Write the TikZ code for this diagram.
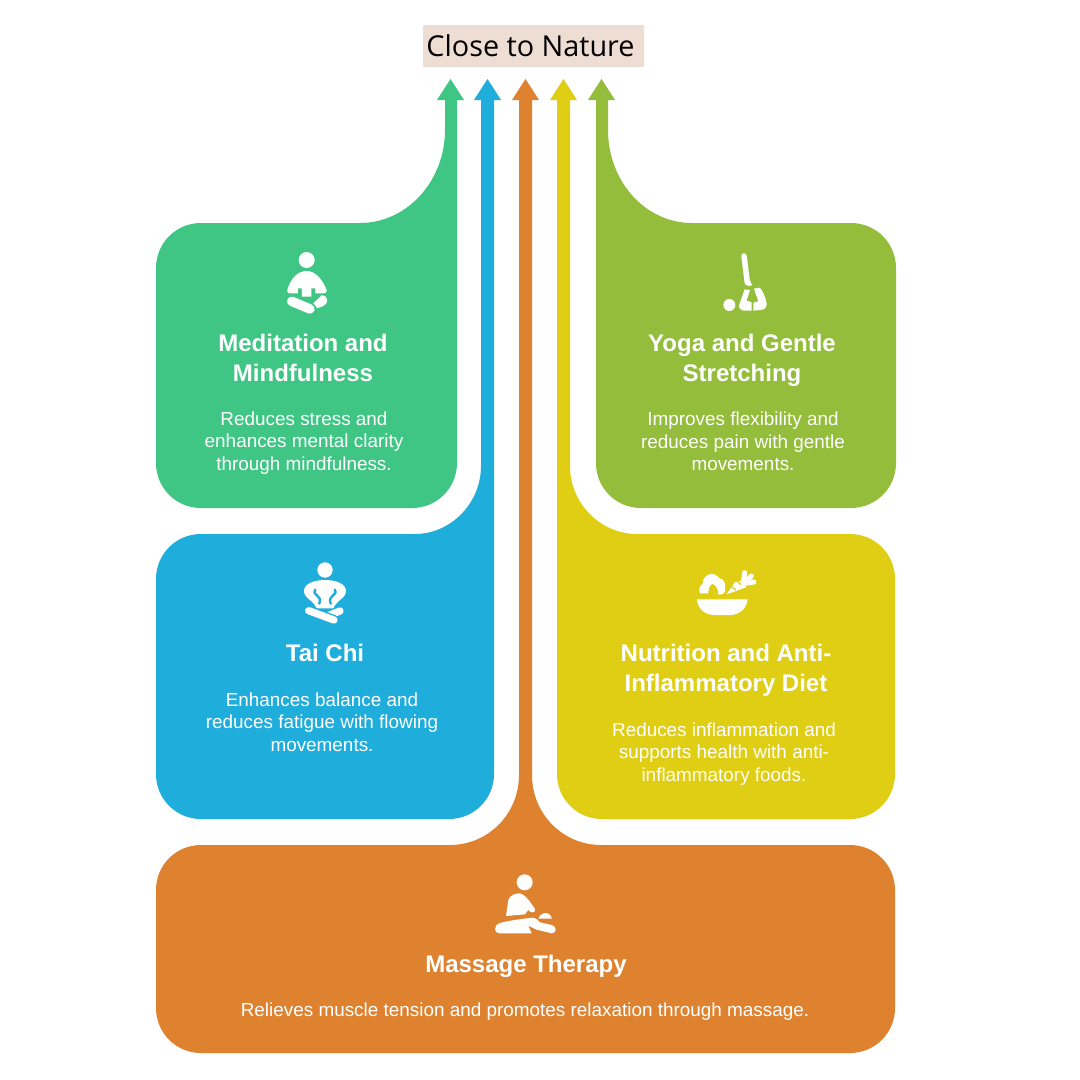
\documentclass[tikz,border=0pt]{standalone}
\usepackage{fontspec}
\setmainfont{Liberation Sans}
\newfontfamily\titlefont{Open Sans}
\definecolor{cgreen}{HTML}{3FC684}
\definecolor{cblue}{HTML}{1FADDC}
\definecolor{corange}{HTML}{DF8230}
\definecolor{cyellow}{HTML}{E0CE15}
\definecolor{clime}{HTML}{93BD3A}
\definecolor{ctitle}{HTML}{EDDDD2}
\tikzset{
 heading/.style={text=white,font=\fontsize{24}{30}\selectfont\bfseries,align=center,inner sep=0pt,anchor=center},
 bodytext/.style={text=white,font=\fontsize{18.9}{22.7}\selectfont,align=center,inner sep=0pt,anchor=center},
 icon/.style={x=0.3333pt,y=-0.3333pt,white,fill=white},
}
\begin{document}
\begin{tikzpicture}[x=1pt,y=-1pt]
\useasboundingbox (0,0) rectangle (1080,1080);
\fill[white] (0,0) rectangle (1080,1080);
% title
\fill[ctitle,rounded corners=1pt] (423,25) rectangle (644,67);
\node[inner sep=0pt,font=\titlefont\fontsize{28.8}{30}\selectfont,text=black] (title) at (530.5,46) {Close to Nature};
% green
\fill[cgreen] (156,268) .. controls (156,243) and (176,223) .. (201,223) -- (360,223)
 .. controls (407,223) and (445,181) .. (445,130) -- (445,100) -- (437,100) -- (450.5,79) -- (464,100) -- (457,100)
 -- (457,463) .. controls (457,488) and (437,508) .. (412,508) -- (201,508) .. controls (176,508) and (156,488) .. (156,463) -- cycle;
% blue
\fill[cblue] (156,579) .. controls (156,554) and (176,534) .. (201,534) -- (415,534)
 .. controls (451,534) and (481,503) .. (481,466) -- (481,100) -- (474,100) -- (487.5,79) -- (501,100) -- (494,100)
 -- (494,774) .. controls (494,799) and (474,819) .. (449,819) -- (201,819) .. controls (176,819) and (156,799) .. (156,774) -- cycle;
% orange
\fill[corange] (156,890) .. controls (156,865) and (176,845) .. (201,845) -- (450,845)
 .. controls (488,845) and (519,814) .. (519,775) -- (519,100) -- (512,100) -- (525.5,79) -- (539,100) -- (532,100)
 -- (532,775) .. controls (532,814) and (563,845) .. (601,845) -- (850,845)
 .. controls (875,845) and (895,865) .. (895,890) -- (895,1008) .. controls (895,1033) and (875,1053) .. (850,1053)
 -- (201,1053) .. controls (176,1053) and (156,1033) .. (156,1008) -- cycle;
% yellow
\fill[cyellow] (895,579) .. controls (895,554) and (875,534) .. (850,534) -- (637,534)
 .. controls (600,534) and (570,503) .. (570,466) -- (570,100) -- (577,100) -- (563.5,79) -- (550,100) -- (557,100)
 -- (557,774) .. controls (557,799) and (577,819) .. (602,819) -- (850,819) .. controls (875,819) and (895,799) .. (895,774) -- cycle;
% lime
\fill[clime] (896,268) .. controls (896,243) and (876,223) .. (851,223) -- (692,223)
 .. controls (645,223) and (608,181) .. (608,130) -- (608,100) -- (615,100) -- (601.5,79) -- (588,100) -- (596,100)
 -- (596,463) .. controls (596,488) and (616,508) .. (641,508) -- (851,508) .. controls (876,508) and (896,488) .. (896,463) -- cycle;
% texts
\node[heading] (h1) at (303,358) {Meditation and\\Mindfulness};
\node[bodytext] (b1) at (304,443) {Reduces stress and\\enhances mental clarity\\through mindfulness.};
\node[heading] (h2) at (325,653) {Tai Chi};
\node[bodytext] (b2) at (322,722) {Enhances balance and\\reduces fatigue with flowing\\movements.};
\node[heading] (h3) at (742,360) {Yoga and Gentle\\Stretching};
\node[bodytext] (b3) at (743,441.5) {Improves flexibility and\\reduces pain with gentle\\movements.};
\node[heading] (h4) at (726,670) {Nutrition and Anti-\\Inflammatory Diet};
\node[bodytext] (b4) at (724,754) {Reduces inflammation and\\supports health with anti-\\inflammatory foods.};
\node[heading] (h5) at (526,966) {Massage Therapy};
\node[bodytext] (b5) at (525,1012) {Relieves muscle tension and promotes relaxation through massage.};
% meditation icon
\begin{scope}[shift={(260,240)},icon]
\fill (140,60) circle[radius=24];
\fill (82,150) .. controls (90,120) and (110,93) .. (140,93) .. controls (170,93) and (190,125) .. (200,150) .. controls (202,160) and (190,162) .. (182,160) -- (166,160) -- (166,145) -- (154,145) -- (154,170) -- (126,170) -- (126,145) -- (114,145) -- (114,160) -- (98,160) .. controls (90,162) and (80,160) .. (82,150) -- cycle;
\fill (168,182) -- (185,166) .. controls (205,166) and (208,190) .. (190,198) -- (172,205) -- (160,190) -- cycle;
\draw[cgreen,line width=12.5pt,line cap=round] (95,184) -- (150,207);
\draw[line width=9.5pt,line cap=round] (95,184) -- (150,207);
\end{scope}
% yoga icon
\begin{scope}[shift={(700,240)},icon]
\draw[line width=5.5pt,line cap=round] (132,48) -- (142,128);
\fill (145,138) -- (156,136) -- (150,120) -- (134,120) -- cycle;
\fill (88,195) circle[radius=18];
\fill (134,148) -- (150,150) -- (140,182) -- (155,187) -- (155,212) -- (132,212) .. controls (115,210) and (115,195) .. (120,188) -- cycle;
\fill (162,146) -- (178,143) .. controls (186,145) and (200,180) .. (200,192) .. controls (200,205) and (190,210) .. (180,210) -- (160,212) -- (160,188) -- (175,184) -- cycle;
\end{scope}
% tai chi icon
\begin{scope}[shift={(280,555)},icon]
\fill (135,45) circle[radius=23];
\fill (135,75) .. controls (165,75) and (198,85) .. (198,108) .. controls (198,130) and (170,135) .. (160,160) -- (110,160) .. controls (100,135) and (72,130) .. (72,108) .. controls (72,85) and (105,75) .. (135,75) -- cycle;
\draw[cblue,line width=2.4pt,line cap=round] (106,104) .. controls (94,122) and (128,118) .. (118,146);
\draw[cblue,line width=2.4pt,line cap=round] (164,104) .. controls (176,122) and (142,118) .. (152,146);
\draw[line width=7.3pt,line cap=round] (180,168) -- (145,182);
\draw[cblue,line width=10pt,line cap=round] (86,167) -- (162,195);
\draw[line width=7.3pt,line cap=round] (86,167) -- (162,195);
\end{scope}
% nutrition icon
\begin{scope}[shift={(680,560)},icon]
\fill (50,118) -- (203,118) .. controls (200,148) and (175,165) .. (150,165) -- (105,165) .. controls (75,165) and (55,148) .. (50,118) -- cycle;
\fill (60,100) .. controls (55,90) and (60,75) .. (68,72) .. controls (68,50) and (85,40) .. (100,42) .. controls (110,45) and (115,52) .. (118,55) .. controls (130,55) and (138,70) .. (135,85) .. controls (137,95) and (132,103) .. (125,103) -- (115,103) .. controls (115,85) and (105,72) .. (98,72) .. controls (88,72) and (85,90) .. (85,100) -- cycle;
\fill (140,103) -- (165,66) .. controls (180,55) and (205,70) .. (198,82) -- cycle;
\draw[line width=5pt,line cap=round] (190,68) -- (194,38);
\draw[line width=5pt,line cap=round] (192,70) -- (222,66);
\draw[line width=5pt,line cap=round] (192,68) -- (214,48);
\draw[cyellow,line width=1.2pt] (155,80) -- (168,90);
\draw[cyellow,line width=1.2pt] (170,62) -- (183,74);
\end{scope}
% massage icon
\begin{scope}[shift={(480,865)},icon]
\fill (134,52) circle[radius=24];
\fill (78,153) -- (85,105) .. controls (90,90) and (105,85) .. (120,85) .. controls (135,88) and (152,112) .. (165,132) .. controls (168,145) and (152,145) .. (145,135) -- (135,148) -- cycle;
\fill (175,161) .. controls (178,150) and (190,144) .. (198,144) .. controls (208,146) and (215,152) .. (216,161) -- cycle;
\fill (60,174) .. controls (85,167) and (120,162) .. (160,158) .. controls (168,158) and (172,165) .. (180,172) -- (215,180) .. controls (230,182) and (232,205) .. (215,205) -- (170,194) -- (145,182) -- (155,205) -- (60,205) .. controls (40,205) and (40,180) .. (60,174) -- cycle;
\end{scope}
\end{tikzpicture}
\end{document}
